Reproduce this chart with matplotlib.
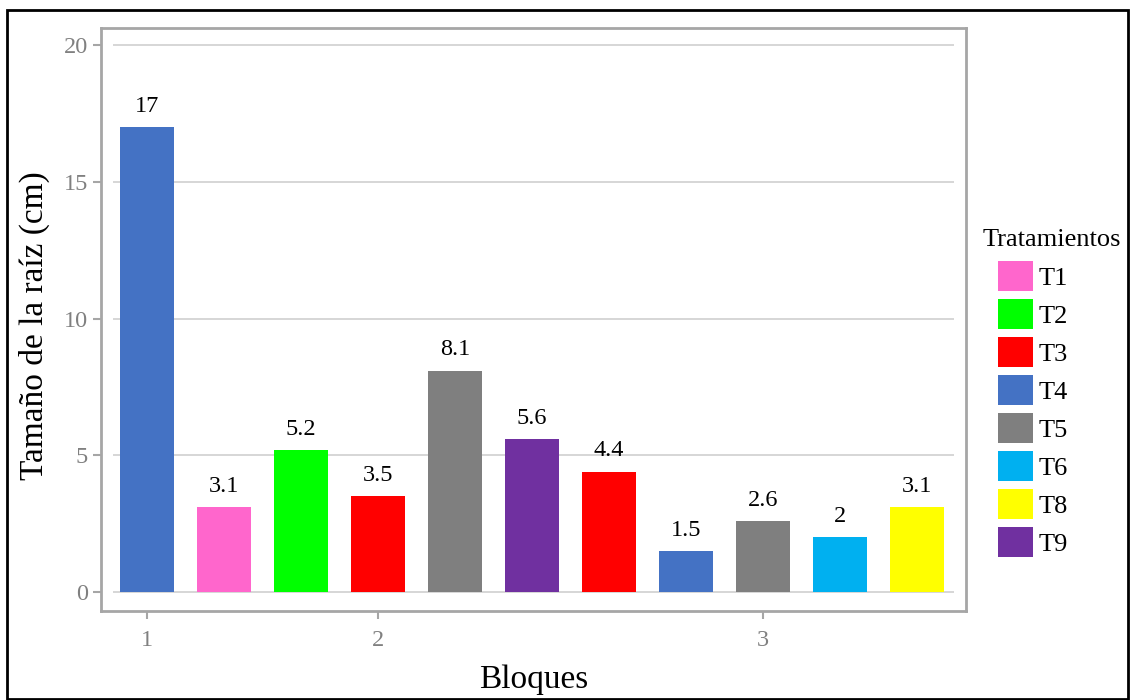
import matplotlib.pyplot as plt
from matplotlib.patches import Patch, Rectangle

plt.rcParams['font.family'] = ['Liberation Serif', 'DejaVu Serif']

# data
pos = [1, 2, 3, 4, 5, 6, 7, 8, 9, 10, 11]
trat = ['T4', 'T1', 'T2', 'T3', 'T5', 'T9', 'T3', 'T4', 'T5', 'T6', 'T8']
valores = [17, 3.1, 5.2, 3.5, 8.1, 5.6, 4.4, 1.5, 2.6, 2, 3.1]
etiquetas = ['17', '3.1', '5.2', '3.5', '8.1', '5.6', '4.4', '1.5', '2.6', '2', '3.1']
bloque_pos = [1, 4, 9]
bloque_lab = ['1', '2', '3']
leyenda = ['T1', 'T2', 'T3', 'T4', 'T5', 'T6', 'T8', 'T9']
colores = {'T1': '#FF66CC', 'T2': '#00FF00', 'T3': '#FF0000', 'T4': '#4472C4',
           'T5': '#7F7F7F', 'T6': '#00B0F0', 'T8': '#FFFF00', 'T9': '#7030A0'}

fig = plt.figure(figsize=(11.3, 7), dpi=100)
ax = fig.add_axes([0.0894, 0.1271, 0.7655, 0.8329])

gris = '#A6A6A6'
ax.set_xlim(0.40, 11.64)
ax.set_ylim(-0.69, 20.62)
for yv in [0, 5, 10, 15, 20]:
    ax.hlines(yv, 0.56, 11.48, color='#D0D0D0', lw=1.2, zorder=0)

ax.bar(pos, valores, width=0.70, color=[colores[t] for t in trat], zorder=2)
for x, v, s in zip(pos, valores, etiquetas):
    ax.annotate(s, (x, v), xytext=(0, 11), textcoords='offset points',
                ha='center', va='baseline', fontsize=17.5, color='black')

for sp in ax.spines.values():
    sp.set_color(gris)
    sp.set_linewidth(2)
ax.set_yticks([0, 5, 10, 15, 20])
ax.set_xticks(bloque_pos)
ax.set_xticklabels(bloque_lab)
ax.tick_params(colors=gris, labelcolor='#808080', labelsize=17.5, length=6, width=1.5)
ax.tick_params(axis='x', pad=8)
ax.set_xlabel('Bloques', fontsize=24)
ax.set_ylabel('Tamaño de la raíz (cm)', fontsize=24)
ax.xaxis.set_label_coords(0.5, -0.092)
ax.yaxis.set_label_coords(-0.059, 0.49)

# legend: title as separate text, entries indented like the original
fig.text(983 / 1130, 1 - 240 / 700, 'Tratamientos', fontsize=19,
         ha='left', va='center')
handles = [Patch(facecolor=colores[t], label=t) for t in leyenda]
leg = fig.legend(handles=handles, loc='center left',
                 bbox_to_anchor=(998 / 1130, 1 - 409 / 700), frameon=False,
                 fontsize=19, handlelength=1.33, handleheight=1.38,
                 handletextpad=0.2, labelspacing=0.3, borderaxespad=0,
                 borderpad=0)

fig.patches.append(Rectangle((0.006, 0.001), 0.992, 0.985, transform=fig.transFigure,
                             fill=False, edgecolor='black', lw=2))

fig.savefig('out.png', dpi=100)
